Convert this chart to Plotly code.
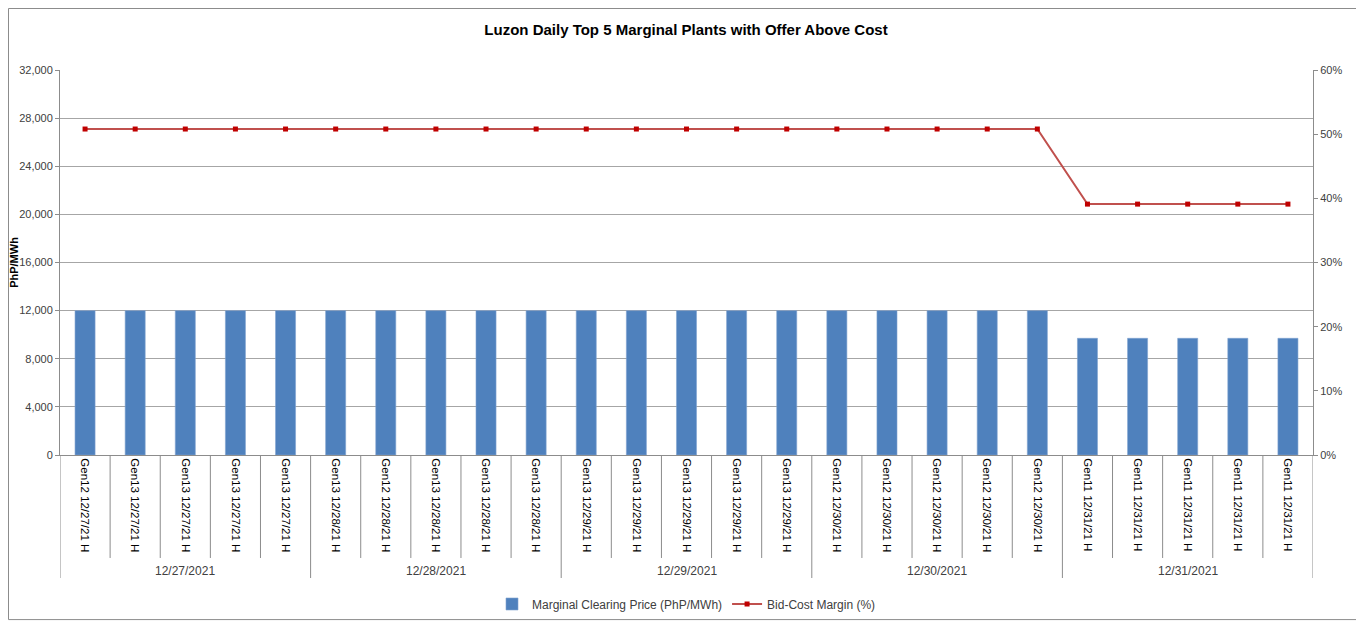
import plotly.graph_objects as go

# ---- data ----
dates = ["12/27/2021", "12/28/2021", "12/29/2021", "12/30/2021", "12/31/2021"]
plant_labels = [
    "Gen12 12/27/21 H", "Gen13 12/27/21 H", "Gen13 12/27/21 H", "Gen13 12/27/21 H", "Gen13 12/27/21 H",
    "Gen13 12/28/21 H", "Gen12 12/28/21 H", "Gen13 12/28/21 H", "Gen13 12/28/21 H", "Gen13 12/28/21 H",
    "Gen13 12/29/21 H", "Gen13 12/29/21 H", "Gen13 12/29/21 H", "Gen13 12/29/21 H", "Gen13 12/29/21 H",
    "Gen12 12/30/21 H", "Gen12 12/30/21 H", "Gen12 12/30/21 H", "Gen12 12/30/21 H", "Gen12 12/30/21 H",
    "Gen11 12/31/21 H", "Gen11 12/31/21 H", "Gen11 12/31/21 H", "Gen11 12/31/21 H", "Gen11 12/31/21 H",
]
clearing_price = [
    12000, 12000, 12000, 12000, 12000,
    12000, 12000, 12000, 12000, 12000,
    12000, 12000, 12000, 12000, 12000,
    12000, 12000, 12000, 12000, 12000,
    9700, 9700, 9700, 9700, 9700,
]
bid_cost_margin = [
    0.508, 0.508, 0.508, 0.508, 0.508,
    0.508, 0.508, 0.508, 0.508, 0.508,
    0.508, 0.508, 0.508, 0.508, 0.508,
    0.508, 0.508, 0.508, 0.508, 0.508,
    0.391, 0.391, 0.391, 0.391, 0.391,
]
per_date = 5

x = list(range(len(plant_labels)))

FONT = "Liberation Sans"
TXT = "#404040"
GRID = "#a6a6a6"
AXC = "#8c8c8c"

fig = go.Figure()
fig.add_trace(go.Bar(
    x=x, y=clearing_price, name="Marginal Clearing Price (PhP/MWh)",
    marker=dict(color="#4f81bd", line=dict(color="#7fa3d0", width=0.6)),
    yaxis="y",
))
fig.add_trace(go.Scatter(
    x=x, y=bid_cost_margin, name="Bid-Cost Margin (%)", mode="lines+markers",
    line=dict(color="#c0504d", width=2),
    marker=dict(symbol="square", size=5, color="#c00000"),
    yaxis="y2",
))

shapes = []
for i in range(len(x) + 1):
    outer = (i % per_date == 0)
    shapes.append(dict(
        type="line", xref="x", yref="paper",
        x0=i - 0.5, x1=i - 0.5, y0=0, y1=(-0.3195 if outer else -0.2675),
        line=dict(color=AXC, width=1),
    ))
shapes.append(dict(
    type="rect", xref="paper", yref="paper",
    x0=-0.0411, x1=1.0355, y0=-0.4275, y1=1.1597,
    line=dict(color=AXC, width=1), fillcolor="rgba(0,0,0,0)", layer="below",
))

annotations = []
for d, date in enumerate(dates):
    center = d * per_date + (per_date - 1) / 2
    annotations.append(dict(
        x=center, y=-0.30, xref="x", yref="paper", text=date, showarrow=False,
        font=dict(family=FONT, size=12, color=TXT), xanchor="center", yanchor="middle",
    ))

fig.update_layout(
    width=1356, height=613,
    margin=dict(l=52, r=51, t=62, b=166, autoexpand=False),
    paper_bgcolor="white", plot_bgcolor="white",
    title=dict(
        text="<b>Luzon Daily Top 5 Marginal Plants with Offer Above Cost</b>",
        x=0.5, xanchor="center", y=1 - 22 / 613, yanchor="middle",
        font=dict(family=FONT, size=15, color="#000000"),
    ),
    bargap=0.6,
    showlegend=True,
    legend=dict(
        orientation="h", x=0.5, xanchor="center", y=-0.387, yanchor="middle",
        font=dict(family=FONT, size=12, color=TXT), itemwidth=30,
        traceorder="normal",
    ),
    xaxis=dict(
        tickmode="array", tickvals=x, ticktext=plant_labels, tickangle=90,
        range=[-0.5, len(x) - 0.5], showgrid=False, zeroline=False,
        showline=True, linecolor=AXC, ticks="", automargin=False,
        tickfont=dict(family=FONT, size=11.5, color="#000000"),
    ),
    yaxis=dict(
        range=[0, 32000], dtick=4000, tickformat=",d", automargin=False,
        showgrid=True, gridcolor=GRID, gridwidth=1, zeroline=False,
        showline=True, linecolor=AXC, ticks="outside", ticklen=4, tickcolor=AXC,
        tickfont=dict(family=FONT, size=11, color=TXT),
        title=dict(text="<b>PhP/MWh</b>", font=dict(family=FONT, size=11, color="#000000"), standoff=0),
    ),
    yaxis2=dict(
        range=[0, 0.6], dtick=0.1, tickformat=".0%", overlaying="y", side="right",
        showgrid=False, zeroline=False, automargin=False,
        showline=True, linecolor=AXC, ticks="outside", ticklen=4, tickcolor=AXC,
        tickfont=dict(family=FONT, size=11, color=TXT),
    ),
    shapes=shapes,
    annotations=annotations,
)

fig.write_html("out.html")
